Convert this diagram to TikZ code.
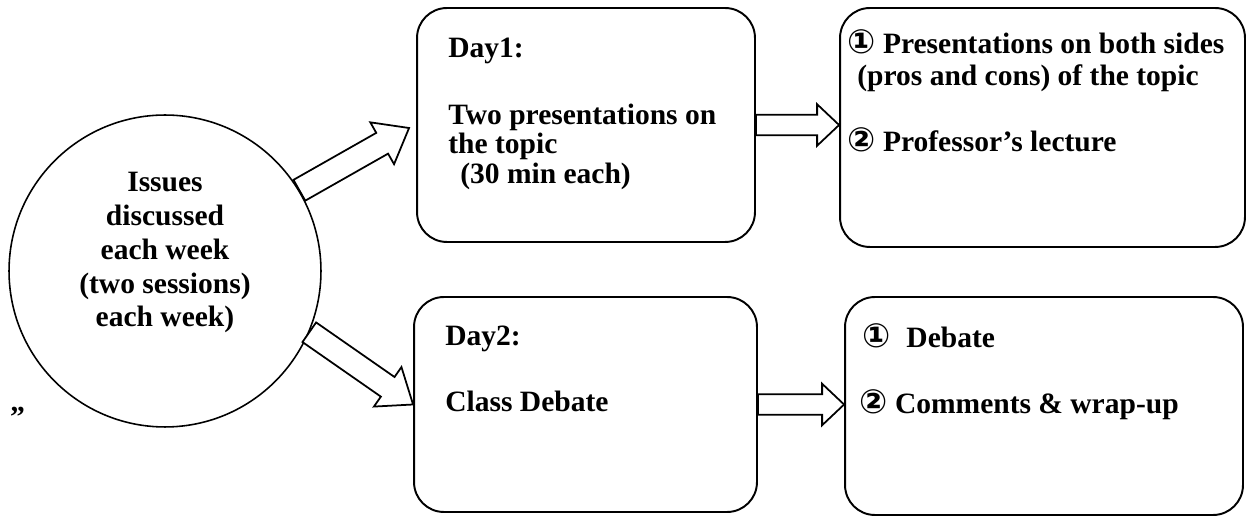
\documentclass[tikz,border=0pt]{standalone}
\usepackage{fontspec}
\setmainfont{Liberation Serif}
\newfontfamily\circfont{DejaVu Sans}
\usetikzlibrary{positioning,calc}

\tikzset{
  roundbox/.style={draw=black, line width=1.1pt, rounded corners=17pt, inner sep=0pt},
  boxtext/.style={font=\fontsize{16.8}{16.5}\selectfont\bfseries, align=left, inner sep=0pt, anchor=base west},
  circtext/.style={font=\fontsize{16.8}{19.3}\selectfont\bfseries, align=center, inner sep=0pt, anchor=base},
  fatarrow/.style={draw=black, line width=1pt, fill=white, line join=miter}
}

% hollow block arrow: start, end, shaft half width, head half width, head length
\newcommand{\blockarrow}[5]{%
  \coordinate (ba-h) at ($(#2)!#5!(#1)$);
  \draw[fatarrow]
    ($(#1)!#3!90:(#2)$) -- ($(ba-h)!#3!90:(#2)$) -- ($(ba-h)!#4!90:(#2)$) -- (#2)
    -- ($(ba-h)!#4!-90:(#2)$) -- ($(ba-h)!#3!-90:(#2)$) -- ($(#1)!#3!-90:(#2)$) -- cycle;}

\newcommand{\circnum}[1]{{\circfont\bfseries\fontsize{19}{18}\selectfont #1}}

\begin{document}
\begin{tikzpicture}[x=0.02cm, y=-0.02cm]
  \useasboundingbox (0,0) rectangle (1247,516);

  \node[circle, draw=black, line width=0.9pt, minimum size=6.24cm, inner sep=0pt] (issues) at (165,271) {};
  % base anchor sits on the last line
  \node[circtext] (issues-text) at (165,327) {Issues\\discussed\\each week\\(two sessions)\\each week)};

  \node[roundbox, minimum width=6.76cm, minimum height=4.68cm] (day1) at (586,125) {};
  \node[roundbox, minimum width=8.1cm, minimum height=4.78cm] (pros) at (1042.5,127.5) {};
  \node[roundbox, minimum width=6.86cm, minimum height=4.3cm] (day2) at (585.5,404.5) {};
  \node[roundbox, minimum width=7.96cm, minimum height=4.36cm] (debate) at (1044,406) {};

  \node[boxtext] (day1-text) at (448,184) {Day1:\\[21.6pt]Two presentations on\\the topic\\[1.1pt]\hspace*{6.8pt}(30 min each)};
  \node[boxtext, font=\fontsize{16.8}{18.2}\selectfont\bfseries] (pros-text) at (847,152)
    {\circnum{①} Presentations on both sides\\\hspace*{5.7pt}(pros and cons) of the topic\\[19.4pt]\circnum{②} Professor’s lecture};
  \node[boxtext] (day2-text) at (445,412) {Day2:\\[21.6pt]Class Debate};
  \node[boxtext] (debate-text) at (862,414)
    {{\circfont\fontsize{19}{18}\selectfont ①}\hspace{9pt}Debate\\[21.6pt]\hspace*{-1.7pt}\circnum{②} Comments \& wrap-up};
  \node[boxtext] (quote) at (10,412) {„};

  \coordinate (tip1) at ($(day1.west)+(-7,3)$);
  \coordinate (tip2) at (day1.east -| pros.west);
  \coordinate (tip3) at (day2.east -| debate.west);

  \blockarrow{issues.31.6}{tip1}{6.8pt}{13.7pt}{17.6pt}
  \blockarrow{issues.-23.3}{day2.west}{6.8pt}{13.7pt}{17.6pt}
  \blockarrow{day1.east}{tip2}{5.8pt}{11.8pt}{12.5pt}
  \blockarrow{day2.east}{tip3}{5.8pt}{11.8pt}{12.5pt}
\end{tikzpicture}
\end{document}
